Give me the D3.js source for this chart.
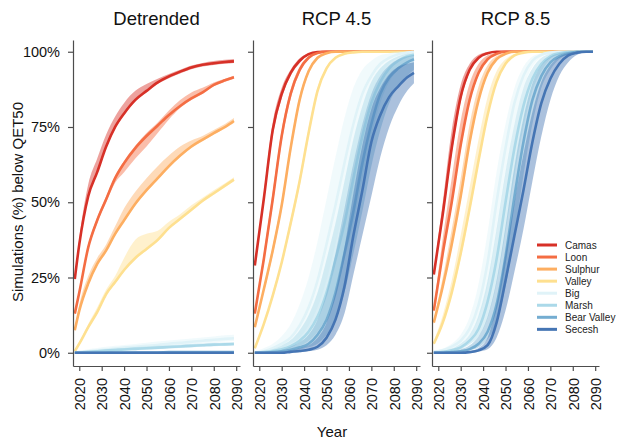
<!DOCTYPE html>
<html>
<head>
<meta charset="utf-8">
<script src="https://cdn.jsdelivr.net/npm/d3@7"></script>
<style>
  body { margin: 0; background: #fff; }
  svg { font-family: "Liberation Sans", Arial, sans-serif; }
</style>
</head>
<body>
<svg width="617" height="439"></svg>
<script>
// sites and colours (RdYlBu)
const sites = ["Camas", "Loon", "Sulphur", "Valley", "Big", "Marsh", "Bear Valley", "Secesh"];
const siteColors = ["#d73027", "#f46d43", "#fdae61", "#fee090", "#e0f3f8", "#abd9e9", "#74add1", "#4575b4"];
const panelTitles = ["Detrended", "RCP 4.5", "RCP 8.5"];

const yearsDet = [2018, 2020, 2024, 2028, 2032, 2036, 2040, 2045, 2050, 2055, 2060, 2065, 2070, 2075, 2080, 2085, 2089];
const yearsRcp = [2018, 2022, 2026, 2030, 2034, 2038, 2042, 2046, 2050, 2054, 2058, 2062, 2066, 2070, 2074, 2078, 2082, 2086, 2089];

const yTicks = [0, 25, 50, 75, 100];
const xTicks = [2020, 2030, 2040, 2050, 2060, 2070, 2080, 2090];

// Detrended: one row per site (median, lower, upper)
const detMid = [
  [24.5, 36, 52, 60, 68.5, 75, 79.5, 84, 87, 89.8, 91.8, 93.4, 94.8, 95.7, 96.2, 96.6, 96.8],
  [13, 20, 35, 44, 51, 58, 63, 68, 72, 75.5, 79, 82, 84.5, 86.5, 89, 90.5, 91.5],
  [7.5, 14, 23, 29.5, 34, 39.5, 44, 49.5, 54, 58, 62, 65.5, 68.5, 70.8, 73, 75, 77],
  [0.5, 3, 8.5, 13.5, 19.5, 23.5, 27.5, 31.5, 34.5, 37.5, 41.5, 44.5, 47.5, 50.5, 53, 55.5, 57.5],
  [0, 0.2, 0.5, 0.8, 1.1, 1.4, 1.7, 2, 2.3, 2.6, 3, 3.3, 3.6, 4, 4.3, 4.6, 4.8],
  [0, 0.1, 0.3, 0.5, 0.7, 0.9, 1.1, 1.3, 1.5, 1.7, 1.9, 2.1, 2.3, 2.5, 2.7, 2.8, 2.9],
  [0, 0, 0, 0, 0, 0.1, 0.1, 0.1, 0.1, 0.1, 0.2, 0.2, 0.2, 0.2, 0.2, 0.2, 0.2],
  [0, 0, 0, 0, 0, 0, 0, 0, 0, 0, 0, 0, 0, 0, 0, 0, 0]
];
const detLo = [
  [24, 35.5, 51.5, 59.5, 68, 74.5, 79, 83.5, 86.5, 89.3, 91.2, 92.8, 94.2, 95.1, 95.6, 96, 96.3],
  [12.5, 19.5, 34, 43, 50, 56.5, 60, 64.5, 68.5, 73, 77.5, 81.3, 84, 86, 88.5, 90, 91],
  [7, 13.5, 22.5, 29, 33.5, 39, 43.5, 49, 53.5, 57.5, 61.5, 65, 68, 70.3, 72.5, 74.5, 76.3],
  [0, 2.5, 8, 13, 19, 23, 27, 31, 34, 37, 41, 44, 47, 50, 52.5, 55, 57],
  [0, 0, 0.2, 0.4, 0.6, 0.9, 1.1, 1.4, 1.6, 1.9, 2.2, 2.5, 2.8, 3.1, 3.4, 3.7, 3.9],
  [0, 0, 0.1, 0.2, 0.4, 0.5, 0.7, 0.8, 1, 1.2, 1.4, 1.6, 1.8, 2, 2.2, 2.3, 2.4],
  [0, 0, 0, 0, 0, 0, 0, 0, 0, 0, 0, 0, 0, 0, 0, 0, 0],
  [0, 0, 0, 0, 0, 0, 0, 0, 0, 0, 0, 0, 0, 0, 0, 0, 0]
];
const detHi = [
  [25, 38, 56, 64.5, 72.5, 78.5, 83, 87, 89.3, 91, 92.6, 94, 95.4, 96.3, 96.9, 97.3, 97.6],
  [13.5, 21, 36, 45, 52, 58.8, 63.8, 68.8, 73, 76.5, 80.5, 84, 86.5, 88, 89.8, 91, 92],
  [8, 16, 25.5, 31.5, 36, 42, 48, 53.5, 58, 62, 65.5, 68.5, 70.5, 72, 74, 76, 78],
  [0.8, 3.5, 9.5, 15, 21, 25.5, 31.5, 37.5, 39.5, 40.5, 43.5, 46, 49, 51.5, 54, 56.3, 58.3],
  [0.2, 0.6, 1.2, 1.6, 2, 2.3, 2.6, 2.9, 3.3, 3.7, 4.1, 4.4, 4.7, 5.1, 5.4, 5.8, 6],
  [0.1, 0.3, 0.6, 0.9, 1.2, 1.4, 1.6, 1.9, 2.1, 2.3, 2.5, 2.7, 2.9, 3.1, 3.3, 3.4, 3.5],
  [0, 0.1, 0.2, 0.2, 0.3, 0.3, 0.3, 0.4, 0.4, 0.4, 0.5, 0.5, 0.5, 0.5, 0.5, 0.5, 0.5],
  [0, 0, 0, 0, 0, 0, 0, 0, 0, 0, 0, 0, 0, 0, 0, 0, 0]
];

// RCP 4.5
const rcp45Mid = [
  [29, 51, 74, 86, 93, 97, 99.2, 99.9, 100, 100, 100, 100, 100, 100, 100, 100, 100, 100, 100],
  [13, 31, 51, 72, 86, 94, 98, 99.6, 100, 100, 100, 100, 100, 100, 100, 100, 100, 100, 100],
  [8.5, 21, 34, 49, 68, 84, 93.5, 98, 99.5, 100, 100, 100, 100, 100, 100, 100, 100, 100, 100],
  [1.5, 9.5, 19, 30, 43, 57, 73, 87, 94.5, 98, 99.3, 99.8, 100, 100, 100, 100, 100, 100, 100],
  [0, 0.5, 1.5, 3, 5, 9, 15, 24, 36, 49, 63, 76, 86, 92, 96, 98, 99.2, 99.7, 100],
  [0, 0.2, 0.6, 1.2, 2.2, 4, 7, 12, 20, 31, 43, 58, 72, 83, 90, 94.5, 97, 98.5, 99],
  [0, 0, 0.2, 0.5, 1, 1.8, 3, 6, 11, 20, 33, 47, 63, 76, 86, 91.5, 94.5, 96.5, 97.5],
  [0, 0, 0, 0, 0.3, 0.6, 1, 2, 5, 11, 22, 39, 54, 70, 79, 85, 88.5, 91.5, 93]
];
const rcp45Lo = [
  [28.5, 49.5, 72, 84.5, 92, 96.3, 98.8, 99.7, 100, 100, 100, 100, 100, 100, 100, 100, 100, 100, 100],
  [12.5, 29.5, 49, 70, 84.5, 93, 97.5, 99.3, 100, 100, 100, 100, 100, 100, 100, 100, 100, 100, 100],
  [8, 20, 32.5, 47.5, 66.5, 82.8, 92.8, 97.6, 99.3, 99.9, 100, 100, 100, 100, 100, 100, 100, 100, 100],
  [1, 9, 18, 29, 41.5, 55.5, 71.5, 86, 94, 97.7, 99.1, 99.7, 100, 100, 100, 100, 100, 100, 100],
  [0, 0, 0.5, 1.5, 3, 5, 9, 15, 24, 36, 49, 63, 76, 86, 92, 96, 98, 99, 99.5],
  [0, 0, 0.2, 0.6, 1.2, 2.2, 4, 7, 12, 20, 31, 43, 58, 72, 83, 90, 94, 96.5, 97.5],
  [0, 0, 0, 0.2, 0.5, 1, 1.8, 3, 6, 11, 20, 33, 47, 62, 74, 83, 88.5, 92, 94],
  [0, 0, 0, 0, 0, 0.2, 0.5, 1, 2.5, 6, 13, 26, 39, 52, 65, 75, 82, 87, 89.5]
];
const rcp45Hi = [
  [29.5, 53, 76.5, 88, 94, 97.8, 99.5, 100, 100, 100, 100, 100, 100, 100, 100, 100, 100, 100, 100],
  [13.5, 33, 53.5, 74, 87.5, 95, 98.6, 99.8, 100, 100, 100, 100, 100, 100, 100, 100, 100, 100, 100],
  [9, 22, 35.5, 50.5, 69.5, 85.2, 94.2, 98.4, 99.7, 100, 100, 100, 100, 100, 100, 100, 100, 100, 100],
  [2, 10, 20, 31, 44.5, 58.5, 74.5, 88, 95, 98.3, 99.5, 99.9, 100, 100, 100, 100, 100, 100, 100],
  [0.5, 1.5, 3, 5.5, 9.5, 16, 25, 37, 51, 65, 78, 88, 94, 97, 98.8, 99.5, 100, 100, 100],
  [0.2, 0.6, 1.2, 2.4, 4.2, 7.5, 12.5, 20, 31, 43, 57, 71, 82, 90, 94.5, 97, 98.5, 99.3, 99.6],
  [0, 0.2, 0.5, 1, 2, 3.5, 6, 11, 20, 33, 48, 63, 76, 86, 92, 95.5, 97.5, 98.5, 99],
  [0, 0, 0, 0.3, 0.8, 1.5, 2.5, 5, 10, 20, 35, 53, 69, 81, 88, 92.5, 95, 96, 96.5]
];

// RCP 8.5
const rcp85Mid = [
  [26, 46, 68, 85, 94, 98, 99.5, 100, 100, 100, 100, 100, 100, 100, 100, 100, 100, 100, 100],
  [14, 33, 50, 69, 84, 93, 97.5, 99.3, 100, 100, 100, 100, 100, 100, 100, 100, 100, 100, 100],
  [10, 22, 36, 52, 70, 84, 93, 97.5, 99.3, 100, 100, 100, 100, 100, 100, 100, 100, 100, 100],
  [3, 10, 20, 33, 48, 64, 79, 90, 96, 98.8, 99.7, 100, 100, 100, 100, 100, 100, 100, 100],
  [0.3, 0.8, 2, 4, 8, 16, 30, 50, 68, 83, 92, 97, 99, 99.7, 100, 100, 100, 100, 100],
  [0, 0.3, 0.8, 1.8, 4, 8, 17, 31, 50, 68, 82, 91, 96, 98.5, 99.5, 100, 100, 100, 100],
  [0, 0, 0.2, 0.5, 1.2, 3, 7, 16, 32, 52, 70, 84, 92, 96.5, 98.5, 99.5, 100, 100, 100],
  [0, 0, 0, 0, 0.2, 0.8, 2.5, 10, 24, 39, 54, 70, 83, 91, 96, 98.8, 99.7, 100, 100]
];
const rcp85Lo = [
  [25.5, 44.5, 66, 83.5, 93.3, 97.6, 99.3, 99.9, 100, 100, 100, 100, 100, 100, 100, 100, 100, 100, 100],
  [13.5, 32, 48.5, 67.5, 83, 92.3, 97.2, 99.1, 100, 100, 100, 100, 100, 100, 100, 100, 100, 100, 100],
  [9.5, 21, 35, 50.5, 68.5, 83, 92.4, 97.2, 99.1, 99.9, 100, 100, 100, 100, 100, 100, 100, 100, 100],
  [2.5, 9.5, 19, 31.5, 46.5, 62.5, 78, 89.5, 95.7, 98.6, 99.6, 100, 100, 100, 100, 100, 100, 100, 100],
  [0, 0.5, 1.3, 2.8, 5.8, 11.5, 22, 40, 59, 76, 88, 95, 98.2, 99.4, 100, 100, 100, 100, 100],
  [0, 0.1, 0.5, 1.2, 2.8, 5.5, 11.5, 23, 40, 59, 75, 87, 93.5, 97.5, 99, 99.8, 100, 100, 100],
  [0, 0, 0, 0.3, 0.8, 1.8, 4.5, 10, 22, 39, 59, 76, 88, 94, 97.5, 99, 99.8, 100, 100],
  [0, 0, 0, 0, 0, 0.4, 1.2, 5, 14, 27, 41, 57, 72, 84, 92, 96.5, 99, 99.8, 100]
];
const rcp85Hi = [
  [27, 50, 74, 89, 96, 99, 99.8, 100, 100, 100, 100, 100, 100, 100, 100, 100, 100, 100, 100],
  [15, 38, 58, 77, 89.5, 96, 98.8, 99.7, 100, 100, 100, 100, 100, 100, 100, 100, 100, 100, 100],
  [11, 25, 41, 58, 76, 88.5, 95.5, 98.6, 99.7, 100, 100, 100, 100, 100, 100, 100, 100, 100, 100],
  [4, 12.5, 24, 39, 55, 71, 85, 93.5, 97.5, 99.3, 99.9, 100, 100, 100, 100, 100, 100, 100, 100],
  [0.6, 1.4, 3, 6, 12, 23, 40, 60, 76, 88, 95, 98.4, 99.5, 100, 100, 100, 100, 100, 100],
  [0.2, 0.6, 1.4, 3, 6, 12.5, 24, 41, 60, 76, 88, 94.5, 98, 99.3, 99.8, 100, 100, 100, 100],
  [0, 0.2, 0.5, 1.2, 2.5, 5.5, 12, 24, 42, 62, 78, 89.5, 95.5, 98.3, 99.5, 100, 100, 100, 100],
  [0, 0, 0, 0.2, 0.6, 1.6, 5, 16, 33, 50, 66, 80, 90, 95.5, 98.3, 99.6, 100, 100, 100]
];

const svg = d3.select("svg");

// layout
const panelLeft = [73, 253, 432];
const panelW = 167;
const axisColor = "#4d4d4d";

const y = d3.scaleLinear().domain([-4.4, 103.9]).range([366, 40]);

const panels = [
  { years: yearsDet, mid: detMid, lo: detLo, hi: detHi },
  { years: yearsRcp, mid: rcp45Mid, lo: rcp45Lo, hi: rcp45Hi },
  { years: yearsRcp, mid: rcp85Mid, lo: rcp85Lo, hi: rcp85Hi }
];

panels.forEach((p, pi) => {
  const x = d3.scaleLinear()
    .domain([2017.2, 2091.7])
    .range([panelLeft[pi], panelLeft[pi] + panelW]);

  const g = svg.append("g");

  const area = d3.area()
    .x(d => x(d.yr))
    .y0(d => y(d.lo))
    .y1(d => y(d.hi))
    .curve(d3.curveMonotoneX);

  const line = d3.line()
    .x(d => x(d.yr))
    .y(d => y(d.mid))
    .curve(d3.curveMonotoneX);

  // ribbon then median, site by site
  sites.forEach((s, si) => {
    const rows = p.years.map((yr, k) => ({
      yr: yr, lo: p.lo[si][k], mid: p.mid[si][k], hi: p.hi[si][k]
    }));
    g.append("path")
      .datum(rows)
      .attr("d", area)
      .attr("fill", siteColors[si])
      .attr("fill-opacity", 0.45);
    g.append("path")
      .datum(rows)
      .attr("d", line)
      .attr("fill", "none")
      .attr("stroke", siteColors[si])
      .attr("stroke-width", 2.6)
      .attr("stroke-linejoin", "round");
  });

  // y axis
  const yAxis = svg.append("g")
    .attr("transform", `translate(${panelLeft[pi]},0)`)
    .call(d3.axisLeft(y)
      .tickValues(yTicks)
      .tickSize(5)
      .tickSizeOuter(0)
      .tickPadding(8)
      .tickFormat(pi === 0 ? d => d + "%" : ""));

  // x axis
  const xAxis = svg.append("g")
    .attr("transform", "translate(0,366)")
    .call(d3.axisBottom(x)
      .tickValues(xTicks)
      .tickSize(5)
      .tickSizeOuter(0)
      .tickFormat(d3.format("d")));

  xAxis.selectAll("text")
    .attr("transform", "rotate(-90)")
    .attr("text-anchor", "end")
    .attr("x", -12)
    .attr("y", 0)
    .attr("dy", "0.36em");

  [yAxis, xAxis].forEach(a => {
    a.select(".domain").attr("stroke", axisColor).attr("stroke-width", 1.2);
    a.selectAll(".tick line").attr("stroke", axisColor).attr("stroke-width", 1.2);
    a.selectAll("text").attr("font-size", "14.5px").attr("fill", "#111");
  });

  // panel title
  svg.append("text")
    .attr("x", panelLeft[pi] + panelW / 2)
    .attr("y", 25)
    .attr("text-anchor", "middle")
    .attr("font-size", "18.5px")
    .attr("fill", "#111")
    .text(panelTitles[pi]);
});

// axis titles
svg.append("text")
  .attr("transform", "translate(23,202) rotate(-90)")
  .attr("text-anchor", "middle")
  .attr("font-size", "15px")
  .attr("fill", "#111")
  .text("Simulations (%) below QET50");

svg.append("text")
  .attr("x", 332)
  .attr("y", 437)
  .attr("text-anchor", "middle")
  .attr("font-size", "15px")
  .attr("fill", "#111")
  .text("Year");

// legend
const legend = svg.append("g");
sites.forEach((s, i) => {
  const ly = 245 + i * 12.05;
  legend.append("line")
    .attr("x1", 537).attr("x2", 557)
    .attr("y1", ly).attr("y2", ly)
    .attr("stroke", siteColors[i])
    .attr("stroke-width", 3);
  legend.append("text")
    .attr("x", 565)
    .attr("y", ly + 3.6)
    .attr("font-size", "10px")
    .attr("fill", "#222")
    .text(s);
});
</script>
</body>
</html>
